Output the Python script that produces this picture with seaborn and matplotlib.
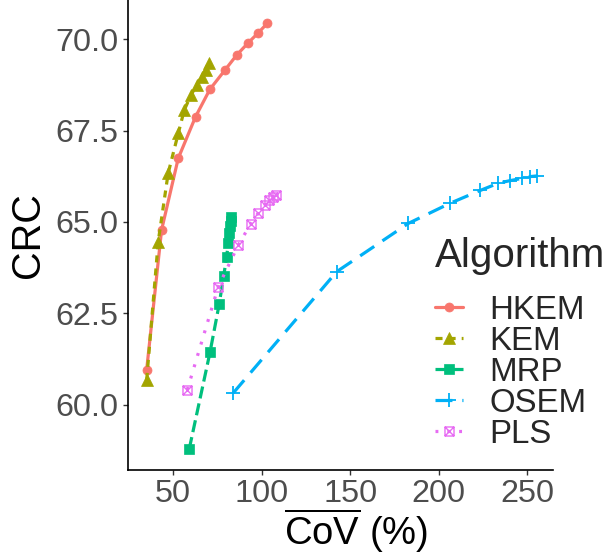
import matplotlib
matplotlib.use("Agg")
import matplotlib.pyplot as plt
from matplotlib.lines import Line2D
from matplotlib.path import Path
from matplotlib.colors import to_rgba
import numpy as np
import pandas as pd
import seaborn as sns

# ---- data -------------------------------------------------------------
algorithms = ["HKEM", "KEM", "MRP", "OSEM", "PLS"]

hkem_cov = [35.2, 43.6, 53.0, 62.8, 70.9, 79.3, 85.9, 92.5, 98.1, 103.2]
hkem_crc = [60.96, 64.78, 66.74, 67.88, 68.63, 69.15, 69.56, 69.90, 70.17, 70.43]

kem_cov = [35.2, 41.7, 47.3, 53.0, 56.4, 60.2, 63.4, 66.2, 68.6, 70.5]
kem_crc = [60.68, 64.46, 66.33, 67.42, 68.06, 68.47, 68.74, 68.97, 69.15, 69.34]

mrp_cov = [59.2, 70.9, 76.1, 78.6, 80.3, 81.2, 81.8, 82.2, 82.5, 82.7]
mrp_crc = [58.79, 61.43, 62.75, 63.51, 64.04, 64.42, 64.69, 64.90, 65.02, 65.14]

osem_cov = [84.0, 142.4, 182.8, 206.3, 223.3, 233.6, 240.2, 246.8, 251.5, 255.6]
osem_crc = [60.32, 63.64, 64.96, 65.51, 65.86, 66.06, 66.13, 66.19, 66.24, 66.26]

pls_cov = [58.1, 75.6, 86.9, 93.8, 98.1, 101.9, 104.3, 106.3, 107.9]
pls_crc = [60.41, 63.23, 64.37, 64.94, 65.24, 65.46, 65.60, 65.69, 65.74]

x_ticks = [50, 100, 150, 200, 250]
y_ticks = [60.0, 62.5, 65.0, 67.5, 70.0]

df = pd.concat([
    pd.DataFrame({"CoV": hkem_cov, "CRC": hkem_crc, "Algorithm": "HKEM"}),
    pd.DataFrame({"CoV": kem_cov, "CRC": kem_crc, "Algorithm": "KEM"}),
    pd.DataFrame({"CoV": mrp_cov, "CRC": mrp_crc, "Algorithm": "MRP"}),
    pd.DataFrame({"CoV": osem_cov, "CRC": osem_crc, "Algorithm": "OSEM"}),
    pd.DataFrame({"CoV": pls_cov, "CRC": pls_crc, "Algorithm": "PLS"}),
], ignore_index=True)

# ---- style --------------------------------------------------------------
sns.set_style("ticks")
plt.rcParams["font.family"] = ["Liberation Sans", "DejaVu Sans"]
plt.rcParams["mathtext.fontset"] = "custom"
plt.rcParams["mathtext.rm"] = "Liberation Sans"
plt.rcParams["mathtext.sf"] = "Liberation Sans"
plt.rcParams["mathtext.it"] = "Liberation Sans:italic"
plt.rcParams["mathtext.bf"] = "Liberation Sans:bold"

colors = ["#F8766D", "#A3A500", "#00BF7D", "#00B0F6", "#E76BF3"]
palette = dict(zip(algorithms, colors))

# square with a cross inside (drawn open)
boxcross = Path(
    [(-1, -1), (1, -1), (1, 1), (-1, 1), (-1, -1), (-1, -1), (1, 1), (-1, 1), (1, -1)],
    [Path.MOVETO, Path.LINETO, Path.LINETO, Path.LINETO, Path.CLOSEPOLY,
     Path.MOVETO, Path.LINETO, Path.MOVETO, Path.LINETO],
)
# thin plus sign as a path marker
plus = Path(
    [(-1, 0), (1, 0), (0, -1), (0, 1)],
    [Path.MOVETO, Path.LINETO, Path.MOVETO, Path.LINETO],
)
markers = dict(zip(algorithms, ["o", "^", "s", plus, boxcross]))
dashes = {
    "HKEM": "",
    "KEM": (2.2, 1.9),
    "MRP": (3.8, 1.6),
    "OSEM": (5.3, 3.1),
    "PLS": (0.9, 2.8),
}
msizes = {"HKEM": 6.5, "KEM": 8.0, "MRP": 6.5, "OSEM": 9.5, "PLS": 6.5}
mews = {"HKEM": 0.5, "KEM": 0.5, "MRP": 0.5, "OSEM": 1.3, "PLS": 1.0}
open_marks = {"OSEM", "PLS"}
LW = 2.3

fig = plt.figure(figsize=(6.09, 5.60), dpi=100)
ax = fig.add_axes([0.210, 0.161, 0.698, 0.839])

sns.lineplot(
    data=df, x="CoV", y="CRC", hue="Algorithm", style="Algorithm",
    hue_order=algorithms, style_order=algorithms,
    palette=palette, markers=markers, dashes=dashes,
    linewidth=LW, sort=False, legend=False, ax=ax,
)

# per-series marker finish
for line in ax.lines:
    c = to_rgba(line.get_color())
    for name in algorithms:
        if np.allclose(c, to_rgba(palette[name])):
            line.set_markersize(msizes[name])
            line.set_markeredgecolor(palette[name])
            line.set_markeredgewidth(mews[name])
            if name in open_marks:
                line.set_markerfacecolor("none")
            break

ax.set_xlim(24.6, 264.4)
ax.set_ylim(58.22, 71.07)
ax.set_xticks(x_ticks)
ax.set_xticklabels([str(v) for v in x_ticks])
ax.set_yticks(y_ticks)
ax.set_yticklabels([f"{v:.1f}" for v in y_ticks])

ax.tick_params(axis="both", labelsize=23.3, labelcolor="#4D4D4D",
               color="#333333", length=3.5, width=1.0, pad=3)
for side in ["top", "right"]:
    ax.spines[side].set_visible(False)
for side in ["left", "bottom"]:
    ax.spines[side].set_color("black")
    ax.spines[side].set_linewidth(1.2)

ax.set_ylabel("CRC", fontsize=28.5, color="black", labelpad=6)
ax.set_xlabel(r"$\overline{\mathrm{CoV}}$ (%)", fontsize=27.5, color="black")
ax.xaxis.set_label_coords(0.536, -0.078)
ax.xaxis.label.set_verticalalignment("top")

# legend
handles = []
for name in algorithms:
    h = Line2D([], [], color=palette[name], lw=LW, marker=markers[name],
               markersize=msizes[name], markeredgecolor=palette[name],
               markeredgewidth=mews[name],
               markerfacecolor="none" if name in open_marks else palette[name])
    if dashes[name]:
        h.set_dashes(dashes[name])
    handles.append(h)

leg = fig.legend(
    handles, algorithms, title="Algorithm", loc="upper left",
    bbox_to_anchor=(0.714, 0.5775), frameon=False, fontsize=23.8,
    title_fontsize=29, handlelength=0.85, handletextpad=0.8,
    labelspacing=0.0, borderpad=0, borderaxespad=0, alignment="left",
)
# gap between the legend title and its entries (points)
leg._legend_box.sep = 14.5

fig.savefig("out.png", dpi=100)
